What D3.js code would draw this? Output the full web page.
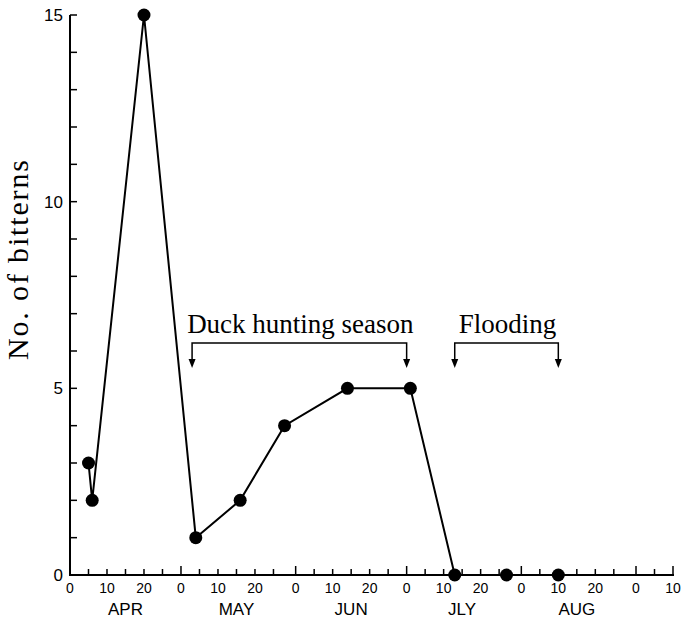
<!DOCTYPE html>
<html lang="en">
  <head>
    <meta charset="utf-8">
    <title>Bitterns</title>
    <style>
      body { margin: 0; background: #fff; }
      .tick-label { font-family: "Liberation Sans", Arial, sans-serif; fill: #000; }
      .serif { font-family: "Liberation Serif", "Times New Roman", serif; fill: #000; }
    </style>
  </head>
  <body>
    <svg id="wrapper" width="683" height="620"></svg>
    <script src="https://cdnjs.cloudflare.com/ajax/libs/d3/7.8.5/d3.min.js"></script>
    <script>
    const year = 2001;

    // observation dates (month, day) and bittern counts
    const obsMonth = [4, 4, 4, 5, 5, 5, 6, 7, 7, 7, 8];
    const obsDay   = [5, 6, 20, 4, 16, 28, 14, 1, 13, 27, 10];
    const counts   = [3, 2, 15, 1, 2, 4, 5, 5, 0, 0, 0];

    // months shown on the axis
    const monthNames = ['APR', 'MAY', 'JUN', 'JLY', 'AUG'];
    const monthNums  = [4, 5, 6, 7, 8, 9];
    const dayLabels  = [0, 10, 20];
    const dayTicks   = [0, 5, 10, 15, 20, 25];

    // annotation brackets: [month, day] start / end
    const periods = [
      {label: 'Duck hunting season', start: [5, 3], end: [6, 30]},
      {label: 'Flooding', start: [7, 13], end: [8, 10]}
    ];

    const yTicks = [0, 5, 10, 15];

    const md = (m, d) => new Date(Date.UTC(year, m - 1, d));

    const svg = d3.select('#wrapper');

    const x = d3.scaleUtc()
      .domain([md(4, 0), md(9, 10)])
      .range([70, 673]);
    const y = d3.scaleLinear()
      .domain([0, 15])
      .range([575, 15]);

    const x0 = x(md(4, 0));

    // axes lines
    svg.append('line')
      .attr('x1', x0).attr('x2', x(md(9, 10)) + 1)
      .attr('y1', y(0)).attr('y2', y(0))
      .attr('stroke', '#000').attr('stroke-width', 2);
    svg.append('line')
      .attr('x1', x0).attr('x2', x0)
      .attr('y1', y(0) + 1).attr('y2', y(15))
      .attr('stroke', '#000').attr('stroke-width', 2);

    // y ticks every unit, pointing inward
    svg.append('g').selectAll('line')
      .data(d3.range(0, 16))
      .join('line')
      .attr('x1', x0).attr('x2', x0 + 7)
      .attr('y1', d => y(d)).attr('y2', d => y(d))
      .attr('stroke', '#000').attr('stroke-width', 1.5);

    svg.append('g').selectAll('text')
      .data(yTicks)
      .join('text')
      .attr('class', 'tick-label')
      .attr('x', x0 - 7)
      .attr('y', d => y(d) + 6)
      .attr('text-anchor', 'end')
      .attr('font-size', 17)
      .text(d => d);

    // x ticks every 5 days within a month, taller at month start
    let xt = [];
    monthNums.forEach(m => {
      dayTicks.forEach(d => {
        if (m === 9 && d > 10) return;
        xt.push({date: md(m, d), major: d === 0 || (d === 10 && m === 9)});
      });
    });
    svg.append('g').selectAll('line')
      .data(xt)
      .join('line')
      .attr('x1', d => x(d.date)).attr('x2', d => x(d.date))
      .attr('y1', y(0)).attr('y2', d => y(0) - (d.major ? 9 : 6))
      .attr('stroke', '#000').attr('stroke-width', 1.5);

    let xl = [];
    monthNums.forEach(m => {
      dayLabels.forEach(d => {
        if (m === 9 && d > 10) return;
        xl.push({date: md(m, d), label: d});
      });
    });
    svg.append('g').selectAll('text')
      .data(xl)
      .join('text')
      .attr('class', 'tick-label')
      .attr('x', d => x(d.date))
      .attr('y', 593)
      .attr('text-anchor', 'middle')
      .attr('font-size', 14)
      .text(d => d.label);

    svg.append('g').selectAll('text')
      .data(monthNames)
      .join('text')
      .attr('class', 'tick-label')
      .attr('x', (d, i) => x(md(monthNums[i], 15)))
      .attr('y', 615)
      .attr('text-anchor', 'middle')
      .attr('font-size', 17)
      .text(d => d);

    // y axis title
    svg.append('text')
      .attr('class', 'serif')
      .attr('transform', 'translate(28,260) rotate(-90)')
      .attr('text-anchor', 'middle')
      .attr('font-size', 30)
      .attr('textLength', 200)
      .attr('lengthAdjust', 'spacing')
      .text('No. of bitterns');

    // data line
    const pts = counts.map((c, i) => ({date: md(obsMonth[i], obsDay[i]), n: c}));
    const line = d3.line()
      .x(d => x(d.date))
      .y(d => y(d.n));
    svg.append('path')
      .datum(pts)
      .attr('fill', 'none')
      .attr('stroke', '#000')
      .attr('stroke-width', 2)
      .attr('d', line);
    svg.append('g').selectAll('circle')
      .data(pts)
      .join('circle')
      .attr('cx', d => x(d.date))
      .attr('cy', d => y(d.n))
      .attr('r', 6.5)
      .attr('fill', '#000');

    // annotation brackets
    const bracketY = 343;
    const arrowY = 368;
    periods.forEach(p => {
      const x1 = x(md(p.start[0], p.start[1]));
      const x2 = x(md(p.end[0], p.end[1]));
      const g = svg.append('g');
      g.append('path')
        .attr('d', 'M' + x1 + ',' + (arrowY - 7) + 'V' + bracketY + 'H' + x2 + 'V' + (arrowY - 7))
        .attr('fill', 'none')
        .attr('stroke', '#000')
        .attr('stroke-width', 1.5);
      [x1, x2].forEach(xx => {
        g.append('path')
          .attr('d', 'M' + (xx - 3.5) + ',' + (arrowY - 9) + 'L' + (xx + 3.5) + ',' + (arrowY - 9) + 'L' + xx + ',' + arrowY + 'Z')
          .attr('fill', '#000');
      });
      g.append('text')
        .attr('class', 'serif')
        .attr('x', (x1 + x2) / 2 + 1)
        .attr('y', 333)
        .attr('text-anchor', 'middle')
        .attr('font-size', 27)
        .text(p.label);
    });
    </script>
  </body>
</html>
